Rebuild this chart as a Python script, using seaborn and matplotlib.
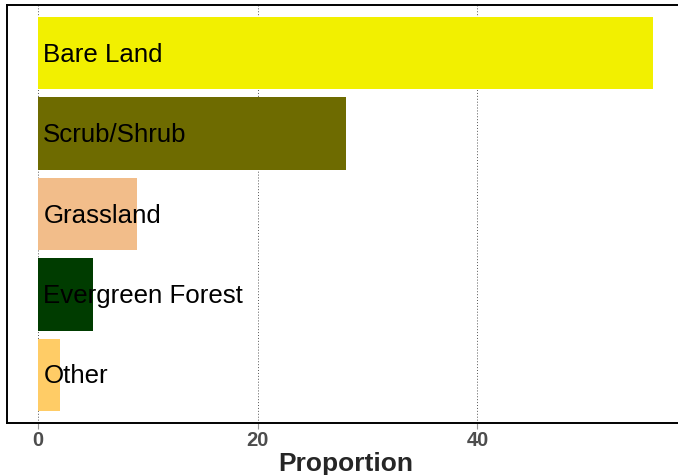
import pandas as pd
import seaborn as sns
import matplotlib.pyplot as plt

sns.set_style("white")
plt.rcParams['font.family'] = ['Liberation Sans', 'DejaVu Sans']

cover_types = ['Bare Land', 'Scrub/Shrub', 'Grassland', 'Evergreen Forest', 'Other']
proportions = [56.0, 28.0, 9.0, 5.0, 2.0]
bar_colors = ['#F2F000', '#6E6B00', '#F2BD8A', '#003C00', '#FFCC66']
x_ticks = [0, 20, 40]

df = pd.DataFrame({'cover': cover_types, 'prop': proportions})

fig = plt.figure(figsize=(6.78, 4.75), dpi=100)
ax = fig.add_axes([7 / 678, 52 / 475, 677 / 678, 418 / 475])

sns.barplot(data=df, y='cover', x='prop', hue='cover', palette=bar_colors,
            orient='h', width=0.9, saturation=1, linewidth=0,
            legend=False, ax=ax, zorder=2)

for i, name in enumerate(cover_types):
    ax.text(0.5, i + 0.02, name, va='center', ha='left', fontsize=18.6,
            color='black', zorder=3)

ax.set_xlim(-2.8, 58.8)
ax.set_ylim(4.6, -0.6)
ax.set_xticks(x_ticks)
ax.set_xticklabels([str(t) for t in x_ticks], fontsize=14.5,
                   fontweight='bold', color='#4D4D4D')
ax.set_yticks([])
ax.set_ylabel('')
ax.set_xlabel('Proportion', fontsize=19, fontweight='bold', labelpad=1)
ax.tick_params(axis='x', length=4, color='#999999', width=0.8, pad=2,
               bottom=True)
ax.grid(axis='x', color='#555555', linestyle=(0, (1, 2)), linewidth=0.7,
        zorder=0)
ax.set_axisbelow(True)

for side in ['left', 'top', 'bottom']:
    ax.spines[side].set_visible(True)
    ax.spines[side].set_color('black')
    ax.spines[side].set_linewidth(1.4)
ax.spines['right'].set_visible(False)

plt.savefig('out.png', dpi=100)
